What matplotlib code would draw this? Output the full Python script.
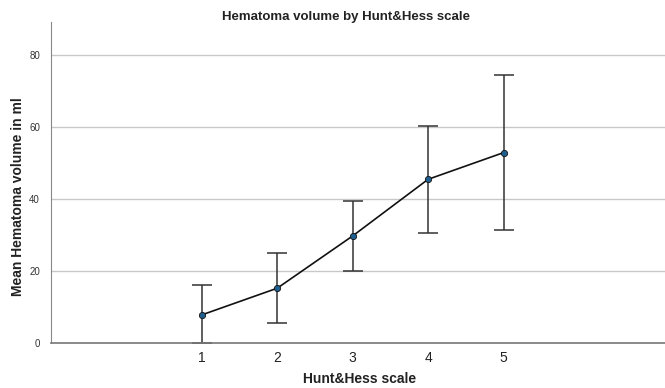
import matplotlib
matplotlib.use("Agg")
import matplotlib.pyplot as plt

# data
hunt_hess = [1, 2, 3, 4, 5]
mean_vol = [7.8, 15.2, 29.7, 45.4, 52.8]
upper = [16.0, 24.9, 39.4, 60.3, 74.2]
lower = [0.0, 5.5, 20.1, 30.4, 31.3]
y_ticks = [0, 20, 40, 60, 80]

plt.rcParams['font.family'] = ['Liberation Sans Narrow', 'Liberation Sans', 'DejaVu Sans']

err_lo = [m - l for m, l in zip(mean_vol, lower)]
err_hi = [u - m for u, m in zip(upper, mean_vol)]

fig = plt.figure(figsize=(6.65, 3.88), dpi=100)
ax = fig.add_axes([0.0767, 0.116, 0.93, 0.827])

for t in y_ticks[1:]:
    ax.axhline(t, color='#c8c8c8', lw=1.0, zorder=0)

ax.errorbar(hunt_hess, mean_vol, yerr=[err_lo, err_hi], fmt='none',
            ecolor='#333333', elinewidth=1.1, capsize=7.5, capthick=1.1, zorder=2)
ax.plot(hunt_hess, mean_vol, color='#111111', lw=1.2, zorder=3)
ax.plot(hunt_hess, mean_vol, 'o', ms=4.5, mfc='#1f5f8f', mec='#111111', mew=0.6, zorder=4)

ax.set_xlim(-1, 7.2)
ax.set_ylim(0, 89)
ax.set_xticks(hunt_hess)
ax.set_yticks(y_ticks)
ax.tick_params(axis='x', length=0, labelsize=10, pad=6, colors='#222222')
ax.tick_params(axis='y', length=0, labelsize=7, pad=8, colors='#333333')

for s in ['top', 'right']:
    ax.spines[s].set_visible(False)
ax.spines['left'].set_color('#888888')
ax.spines['bottom'].set_color('#777777')
ax.spines['bottom'].set_linewidth(1.2)

fig.text(346 / 665, 1 - 17 / 388, 'Hematoma volume by Hunt&Hess scale', fontsize=9.5,
         fontweight='bold', color='#222222', ha='center', va='center')
fig.text(360 / 665, 1 - 379 / 388, 'Hunt&Hess scale', fontsize=10, fontweight='bold',
         color='#222222', ha='center', va='center')
fig.text(18 / 665, 1 - 197 / 388, 'Mean Hematoma volume in ml', fontsize=10,
         fontweight='bold', color='#222222', ha='center', va='center', rotation=90)

fig.savefig('out.png', dpi=100)
